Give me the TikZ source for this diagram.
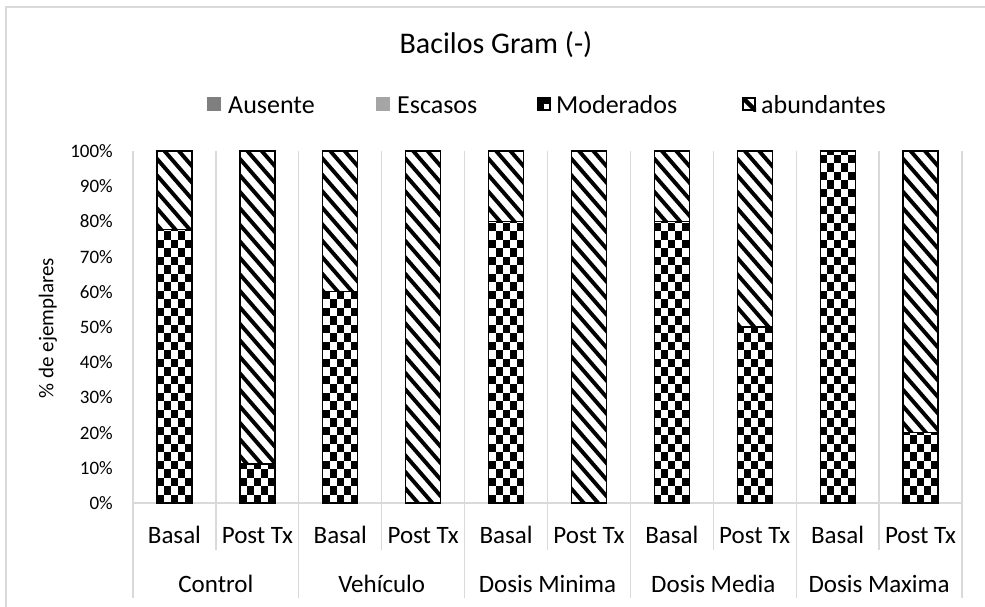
\documentclass[tikz,border=0pt]{standalone}
\usepackage{fontspec}
\setmainfont{Carlito}
\definecolor{gridgray}{HTML}{D9D9D9}
\definecolor{ausentec}{HTML}{7F7F7F}
\definecolor{escasosc}{HTML}{A5A5A5}
\newcommand{\CheckSeg}[3]{%
  \begin{scope}
    \clip (#1,#2) rectangle ({#1+35},#3);
    \fill[white] (#1,#2) rectangle ({#1+35},#3);
    \foreach \i in {0,...,5} {
      \foreach \j in {0,...,42} {
        \pgfmathtruncatemacro{\pp}{mod(\i+\j,2)}
        \ifnum\pp=0
          \fill[black] ({#1+\i*7},{503-(\j+1)*8.5}) rectangle ({#1+(\i+1)*7},{503-\j*8.5});
        \fi
      }
    }
  \end{scope}
  \draw[barframe] (#1,#2) rectangle ({#1+35},#3);}
\newcommand{\StripeSeg}[3]{%
  \begin{scope}
    \clip (#1,#2) rectangle ({#1+35},#3);
    \fill[white] (#1,#2) rectangle ({#1+35},#3);
    \foreach \j in {-1,...,26} {
      \draw[black, line width=3.9pt] ({#1-2},{503-\j*16.5}) -- ({#1+37},{503-\j*16.5+44.85});
    }
  \end{scope}
  \draw[barframe] (#1,#2) rectangle ({#1+35},#3);}
\begin{document}
\begin{tikzpicture}[x=1pt,y=-1pt,
  grid/.style={draw=gridgray, line width=1.3pt},
  barframe/.style={draw=black, line width=1.3pt},
  ticklab/.style={font=\fontsize{19}{22}\selectfont, anchor=east, inner sep=0pt},
  catlab/.style={font=\fontsize{25}{30}\selectfont, anchor=base, inner sep=0pt},
  leglab/.style={font=\fontsize{26}{31}\selectfont, anchor=base west, inner sep=0pt}]
\clip (0,0) rectangle (985,606);
\fill[white] (0,0) rectangle (985,606);
% outer chart frame
\draw[grid] (6,7) rectangle (1000,620);
% title
\node[font=\fontsize{30}{36}\selectfont, inner sep=0pt] (title) at (496,45) {Bacilos Gram (-)};
% legend
\fill[ausentec] (207,97) rectangle (221,111);
\node[leglab] (lga) at (228,113) {Ausente};
\fill[escasosc] (376,97) rectangle (390,111);
\node[leglab] (lge) at (397,113) {Escasos};
\fill[black] (537,97) rectangle (551,104);
\fill[black] (537,97) rectangle (544,111);
\fill[white] (544.5,104) rectangle (549.8,109.5);
\draw[black, line width=1.6pt] (537.8,97.8) rectangle (550.2,110.2);
\node[leglab] (lgm) at (556,113) {Moderados};
\begin{scope}
  \clip (742,97) rectangle (756,111);
  \draw[black, line width=4.5pt] (740,95) -- (758,113);
\end{scope}
\draw[black, line width=1.6pt] (742.8,97.8) rectangle (755.2,110.2);
\node[leglab] (lgb) at (761,113) {abundantes};
% gridlines and category axis
\foreach \k in {0,2,4,6,8,10} {
  \draw[grid] ({133+82.9*\k},151) -- ({133+82.9*\k},598);
}
\foreach \k in {1,3,5,7,9} {
  \draw[grid] ({133+82.9*\k},151) -- ({133+82.9*\k},550);
}
\draw[grid] (133,503) -- (962,503);
% y tick labels
\foreach \i in {0,...,10} {
  \node[ticklab] (yt\i) at (113,{503-35.2*\i}) {\pgfmathtruncatemacro{\pc}{10*\i}\pc\%};
}
\node[font=\fontsize{21}{25}\selectfont, rotate=90, inner sep=0pt] (ytitle) at (48,328) {\% de ejemplares};
% bars
\CheckSeg{156.95}{229.2}{503}
\StripeSeg{156.95}{151}{229.2}
\CheckSeg{239.85}{463.9}{503}
\StripeSeg{239.85}{151}{463.9}
\CheckSeg{322.75}{291.8}{503}
\StripeSeg{322.75}{151}{291.8}
\StripeSeg{405.65}{151}{503}
\CheckSeg{488.55}{221.4}{503}
\StripeSeg{488.55}{151}{221.4}
\StripeSeg{571.45}{151}{503}
\CheckSeg{654.35}{221.4}{503}
\StripeSeg{654.35}{151}{221.4}
\CheckSeg{737.25}{327}{503}
\StripeSeg{737.25}{151}{327}
\CheckSeg{820.15}{151}{503}
\CheckSeg{903.05}{432.6}{503}
\StripeSeg{903.05}{151}{432.6}
% category labels
\foreach \k in {0,2,4,6,8} {
  \node[catlab] (cb\k) at ({133+82.9*(\k+0.5)},543) {Basal};
}
\foreach \k in {1,3,5,7,9} {
  \node[catlab] (cp\k) at ({133+82.9*(\k+0.5)},543) {Post Tx};
}
\foreach \g/\t in {0/Control,1/Vehículo,2/Dosis Minima,3/Dosis Media,4/Dosis Maxima} {
  \node[catlab] (grp\g) at ({133+165.8*(\g+0.5)},592) {\t};
}
\end{tikzpicture}
\end{document}
